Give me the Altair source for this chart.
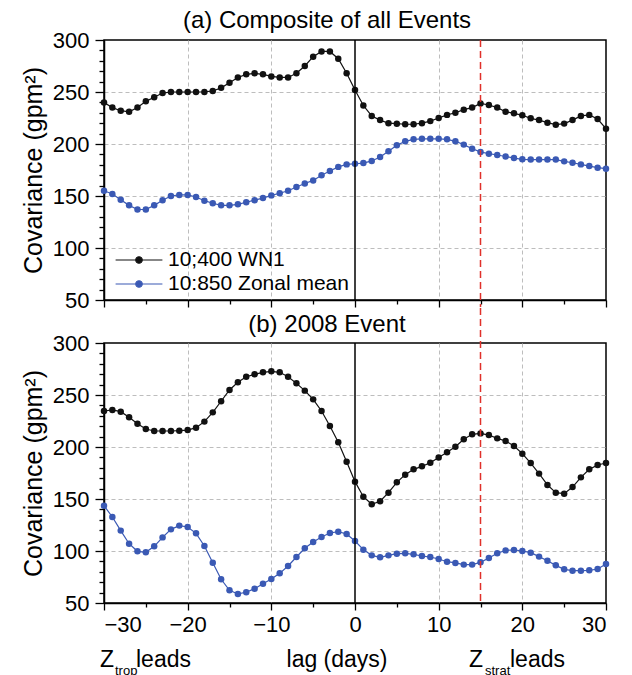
import altair as alt
import pandas as pd

lags = list(range(-30, 31))
series_names = ["10;400 WN1", "10:850 Zonal mean"]
series_colors = ["#111111", "#3a59b4"]

a_wn1 = [240, 235, 232, 231, 235, 241, 245, 249, 250, 250, 250, 250, 250, 251, 254, 259,
         264, 267, 268, 267, 265, 264, 264, 268, 275, 284, 289, 289, 282, 268, 252,
         237, 227, 223, 220, 219.5, 219, 219, 220, 222, 225, 228, 230, 233, 235, 239,
         237.5, 235, 231, 229.5, 227.6, 224.7, 223, 220.5, 218.6, 219.6, 223, 227, 228, 224, 214.7]
a_zm = [155, 152, 146.5, 141, 137, 137, 141, 146, 150, 151, 151, 149, 145.5, 143, 141, 141,
        142, 144, 146, 148, 150.6, 152.6, 155, 158.7, 162, 165, 170, 174, 178, 180.4, 181,
        181.7, 183.7, 187.5, 193, 198.7, 202.6, 204.5, 205, 205, 205, 204.5, 202.6, 199.4, 195.5, 192.3,
        190.7, 189.4, 188, 186.5, 185.3, 185, 185, 185, 185, 183.3, 182, 180.4, 178.8, 177.2, 176.3]
b_wn1 = [234.6, 235.6, 234, 228.5, 222.4, 217.3, 215.4, 215.4, 215.4, 215.7, 216.3, 218.6, 224.4,
         233.3, 244, 254.8, 262.2, 267.6, 269.9, 271.8, 272.8, 271.8, 267.6, 261.2, 254.2, 245.8,
         234.6, 220.2, 204.5, 185.9, 166.7,
         152.2, 144.9, 147.8, 156.1, 166, 173.4, 178.5, 181.4, 184.9, 190, 194.9, 200.3, 207.4, 212.2,
         213.1, 211.5, 208.3, 205.8, 201, 193.6, 184.6, 174.4, 163.5, 156.1, 155.1, 161.5, 170.8,
         178.5, 182.7, 184.6]
b_zm = [143.6, 132.7, 119.6, 107, 99.7, 98.7, 104.5, 113.1, 120.8, 124.4, 123.1, 117, 104.8, 88.8,
        72.8, 62.2, 58.7, 60.3, 63.8, 68.6, 73.1, 78.5, 85.6, 94.2, 102.6, 108.7, 113.5, 117.3,
        118.6, 116.3, 109.6,
        101.3, 95.8, 93.9, 95.8, 97.4, 97.8, 96.8, 95.2, 94.2, 92.3, 89.7, 88.5, 86.9, 86.9, 89.1,
        93.3, 97.8, 100.6, 101, 100, 98.4, 94.6, 90.7, 86.2, 82.4, 81.1, 81.1, 81.4, 82.7, 87.5]

y_ticks = list(range(50, 301, 10))
x_ticks = list(range(-30, 31, 5))

FONT = "Liberation Sans"
W, H = 502, 260


def make_df(wn1, zm):
    rows = []
    for name, vals in zip(series_names, [wn1, zm]):
        for l, v in zip(lags, vals):
            rows.append({"lag": l, "value": v, "series": name})
    return pd.DataFrame(rows)


def x_axis(labels):
    return alt.Axis(
        values=x_ticks,
        labels=labels,
        labelExpr="datum.value % 10 === 0 ? datum.label : ''",
        labelFontSize=22, labelFont=FONT, labelColor="black", labelPadding=4,
        tickSize={"condition": {"test": "datum.value % 10 === 0", "value": 7}, "value": 4},
        tickColor="black", tickWidth=1.3,
        domainColor="black", domainWidth=1.5,
        grid=True,
        gridOpacity={"condition": {"test": "datum.value % 10 === 0 && abs(datum.value) != 30 && datum.value != 0",
                                   "value": 1}, "value": 0},
        gridDash=[4, 3], gridColor="#bdbdbd", gridWidth=1,
        title=None,
    )


y_axis = alt.Axis(
    values=y_ticks,
    labelExpr="datum.value % 50 === 0 ? datum.label : ''",
    labelFontSize=22, labelFont=FONT, labelColor="black", labelPadding=6,
    tickSize={"condition": {"test": "datum.value % 50 === 0", "value": 9}, "value": 5},
    tickColor="black", tickWidth=1.3,
    domainColor="black", domainWidth=1.5,
    grid=True,
    gridOpacity={"condition": {"test": "datum.value % 50 === 0 && datum.value != 50 && datum.value != 300",
                               "value": 1}, "value": 0},
    gridDash=[4, 3], gridColor="#bdbdbd", gridWidth=1,
    title="Covariance (gpm²)", titleFontSize=25, titleFont=FONT, titleFontWeight="normal",
    titleColor="black", titlePadding=6,
)

# legend key: line overhanging a 26px symbol box, with a dot in the middle
legend_path = ("M-1.8,0L1.8,0M0.25,0A0.25,0.25,0,1,1,-0.25,0A0.25,0.25,0,1,1,0.25,0Z")
legend = alt.Legend(
    title=None, orient="none", legendX=21, legendY=206,
    labelFontSize=21, labelFont=FONT, labelColor="black", labelLimit=0,
    symbolType=legend_path, symbolSize=676, symbolStrokeWidth=1.2,
    symbolFillColor={"expr": "datum.value === '10;400 WN1' ? '#111111' : '#3a59b4'"},
    rowPadding=0, labelOffset=15, padding=0,
)


def txt(s, x, y, size, align="left"):
    return alt.Chart(pd.DataFrame({"a": [0]})).mark_text(
        text=s, font=FONT, fontSize=size, color="black", align=align, baseline="alphabetic"
    ).encode(x=alt.value(x), y=alt.value(y))


def panel(df, title, x_labels, show_legend, red_top, red_bottom, title_y):
    xs = alt.X("lag:Q", scale=alt.Scale(domain=[-30, 30], nice=False), axis=x_axis(x_labels))
    ys = alt.Y("value:Q", scale=alt.Scale(domain=[50, 300], nice=False, zero=False), axis=y_axis)
    cs = alt.Color("series:N", scale=alt.Scale(domain=series_names, range=series_colors),
                   legend=legend if show_legend else None)
    lines = alt.Chart(df).mark_line(
        strokeWidth=1.2,
        point=alt.OverlayMarkDef(filled=True, size=42, opacity=1),
    ).encode(x=xs, y=ys, color=cs, order="lag:Q")
    zero = alt.Chart(pd.DataFrame({"lag": [0]})).mark_rule(color="black", strokeWidth=1.5).encode(x="lag:Q")
    red = alt.Chart(pd.DataFrame({"lag": [15]})).mark_rule(
        color="#e0302a", strokeWidth=1.5, strokeDash=[7, 4]
    ).encode(x="lag:Q", y=alt.value(red_top), y2=alt.value(red_bottom))
    ttl = txt(title, 223, title_y, 24, "center")
    return alt.layer(lines, zero, red, ttl).properties(width=W, height=H)


top = panel(make_df(a_wn1, a_zm), "(a) Composite of all Events", False, True, 0, H + 7, -12)
bottom_base = panel(make_df(b_wn1, b_zm), "(b) 2008 Event", True, False, -35, H, -11)

annot = [
    txt("Z", -4, 324, 23), txt("trop", 11, 332, 13), txt("leads", 32, 324, 23),
    txt("lag (days)", 233, 324, 23, "center"),
    txt("Z", 365, 324, 23), txt("strat", 381, 332, 13), txt("leads", 406, 324, 23),
]
bottom = alt.layer(bottom_base, *annot)

chart = alt.vconcat(top, bottom, spacing=-6).resolve_scale(color="independent").configure_view(
    stroke="black", strokeWidth=1.5
).properties(padding={"left": 12, "top": 0, "right": 5, "bottom": 0}, background="white")

chart.save("out.html", embed_options={"renderer": "svg", "actions": False})
